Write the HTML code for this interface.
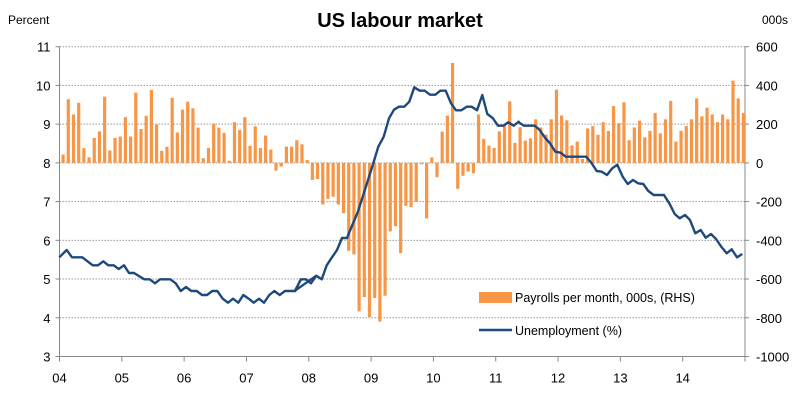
<!DOCTYPE html>
<html><head><meta charset="utf-8"><style>
html,body{margin:0;padding:0;background:#fff;width:800px;height:407px;overflow:hidden}
svg{display:block;font-family:"Liberation Sans",sans-serif}
</style></head><body>
<svg id="c" width="800" height="407" viewBox="0 0 800 407" xmlns="http://www.w3.org/2000/svg">
<text x="400" y="27" text-anchor="middle" font-size="20" font-weight="bold" fill="#000">US labour market</text>
<text x="8" y="24" font-size="12" fill="#000">Percent</text>
<text x="762" y="24" font-size="12" fill="#000">000s</text>
<g id="g"></g>
</svg>
<script>
var NS="http://www.w3.org/2000/svg",g=document.getElementById("g");
function el(t,a,txt){var e=document.createElementNS(NS,t);for(var k in a)e.setAttribute(k,a[k]);if(txt!=null)e.textContent=txt;g.appendChild(e);return e;}
var L=59.5,R=745,T=46.7,B=356.5,step=(B-T)/8;
for(var i=0;i<=8;i++){var y=T+i*step;
 if(i<8)el("line",{x1:L,x2:R,y1:y,y2:y,stroke:"#999","stroke-dasharray":"1.5,1.5","stroke-width":1});
 el("line",{x1:L-4,x2:L,y1:y,y2:y,stroke:"#888"});
 el("line",{x1:R,x2:R+4,y1:y,y2:y,stroke:"#888"});
 el("text",{x:L-9,y:y+5,"text-anchor":"end","font-size":"13",fill:"#000"},String(11-i));
 el("text",{x:R+11,y:y+5,"font-size":"13",fill:"#000"},String(600-200*i));
}
el("line",{x1:L,x2:L,y1:T,y2:B,stroke:"#888"});
el("line",{x1:R,x2:R,y1:T,y2:B,stroke:"#888"});
el("line",{x1:L,x2:R,y1:B,y2:B,stroke:"#888"});
var mw=(R-L)/132;
var yrs=["04","05","06","07","08","09","10","11","12","13","14"];
for(var j=0;j<=11;j++){var x=L+j*12*mw;el("line",{x1:x,x2:x,y1:B,y2:B+5,stroke:"#888"});
 if(j<11)el("text",{x:x,y:B+26,"text-anchor":"middle","font-size":"13",fill:"#000"},yrs[j]);}
var bars=[43,329,250,310,76,29,129,163,342,64,129,136,236,136,363,175,243,377,198,62,83,336,157,275,316,282,182,24,77,203,182,155,10,210,170,236,88,189,77,141,69,-40,-19,84,84,117,96,15,-88,-83,
-215,-186,-175,-215,-260,-454,-473,-767,-693,-796,-698,-820,-686,-354,-327,-466,-222,-229,-201,-7,-287,28,-74,162,244,516,-134,-67,-45,-53,250,124,89,77,163,193,318,103,184,115,127,
225,183,146,225,378,245,220,90,110,20,178,190,145,210,165,293,205,313,117,183,218,132,165,258,152,225,320,110,165,190,225,333,240,285,250,210,250,225,425,333,258];
var zero=T+3*step,k=step/200;
for(var m=0;m<bars.length;m++){var v=bars[m],x=L+1+m*mw+mw/2-1.6,h=Math.abs(v)*k;
 el("rect",{x:x,y:v>=0?zero-h:zero,width:3.2,height:Math.max(h,0.5),fill:"#F79646"});}
var z1=[[28,652],[50,630],[66,652],[97,652],[128,676],[144,676],[160,664],[175,676],[191,676],[206,687],[222,676],[237,699],[252,699],[283,718],[299,718],[315,730],[330,718],[361,718],[377,730],[392,753],[408,741],[424,753],[440,753],[456,765],[471,765],[487,753],[502,753],[518,776],[534,788],[549,776],[565,788],[580,765],[596,776],[611,788],[627,776],[642,788],[658,765],[673,753],[689,765],[705,753],[736,753],[752,718],[767,718],[783,730],[799,707]];
var z2=[[15,752],[33,718],[48,718],[63,730],[79,707],[95,718],[110,676],[126,652],[141,630],[156,594],[171,594],[187,555],[203,517],[218,470],[234,420],[250,370],[265,320],[281,290],[297,235],[312,209],[327,200],[343,200],[358,185],[373,142],[389,152],[404,152],[420,164],[436,164],[451,152],[467,152],[483,190],[498,211],[514,211],[530,200],[545,200],[561,211],[577,165],[592,222],[608,234],[624,257],[640,257],[655,247],[671,257],[686,245]];
var z3=[[25,246],[42,257],[74,257],[89,270],[105,293],[120,310],[136,335],[152,338],[167,350],[229,350],[245,370],[260,393],[275,395],[291,405],[307,385],[322,374],[338,410],[353,432],[369,420],[384,430],[400,432],[415,453],[431,465],[462,465],[478,490],[494,522],[509,535],[525,525],[540,540],[556,580],[572,570],[587,593],[603,582],[618,597],[634,620],[650,640],[665,628],[681,652],[697,642]];
var pts=[];
z1.forEach(function(p){pts.push((50+p[0]/3).toFixed(1)+","+(40+p[1]/3).toFixed(1));});
z2.forEach(function(p){pts.push((290+p[0]/3).toFixed(1)+","+(40+p[1]/3).toFixed(1));});
z3.forEach(function(p){pts.push((510+p[0]/3).toFixed(1)+","+(40+p[1]/3).toFixed(1));});
el("polyline",{points:pts.join(" "),fill:"none",stroke:"#1F497D","stroke-width":2.4,"stroke-linejoin":"round"});
el("rect",{x:479,y:292,width:33,height:11,fill:"#F79646"});
el("text",{x:515,y:302,"font-size":"12.5",fill:"#000"},"Payrolls per month, 000s, (RHS)");
el("line",{x1:479,x2:512,y1:330,y2:330,stroke:"#1F497D","stroke-width":2.4});
el("text",{x:515,y:335,"font-size":"12.5",fill:"#000"},"Unemployment (%)");
</script>
</body></html>
